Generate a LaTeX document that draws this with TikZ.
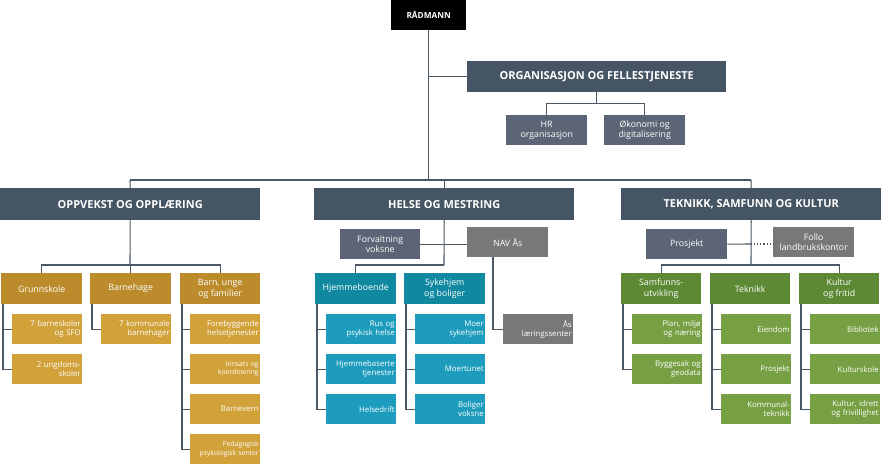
\documentclass[tikz,border=0pt]{standalone}
\usepackage{fontspec}
\setmainfont{Open Sans}
\definecolor{slate}{HTML}{465564}
\definecolor{slatel}{HTML}{5B6575}
\definecolor{grayb}{HTML}{7A7777}
\definecolor{goldA}{HTML}{BC8C2C}
\definecolor{goldB}{HTML}{D1A13A}
\definecolor{tealA}{HTML}{0F88A0}
\definecolor{tealB}{HTML}{1E9CBD}
\definecolor{greenA}{HTML}{5E8934}
\definecolor{greenB}{HTML}{76A043}
\definecolor{linec}{HTML}{4A5866}
\tikzset{
  bx/.style={anchor=north west, inner sep=0pt, text=white, align=center, font=\fontsize{8.8}{10.5}\selectfont, minimum width=81, minimum height=30},
  lvl/.style={bx, minimum height=31},
  head/.style={bx, fill=slate, minimum width=260, minimum height=32, font=\bfseries\fontsize{11}{12}\selectfont},
  sub/.style={anchor=north west, inner sep=0pt, text=white, font=\fontsize{7.8}{9.3}\selectfont, minimum width=70, minimum height=30, text width=67, align=right},
  ln/.style={draw=linec, line width=1.1pt},
}
\begin{document}
\begin{tikzpicture}[x=1pt,y=-1pt]
\useasboundingbox (0,0) rectangle (881,468);
\coordinate (tl) at (130,180); \coordinate (tr) at (751,180);
\node[bx, fill=black, minimum width=75, font=\bfseries\fontsize{8.3}{10}\selectfont] (rad) at (391,0) {RÅDMANN};
\node[head, minimum width=259, minimum height=31] (org) at (467,61) {ORGANISASJON OG FELLESTJENESTE};
\node[bx, fill=slatel] (hr) at (506,115) {HR\\organisasjon};
\node[bx, fill=slatel] (oko) at (604,115) {Økonomi og\\digitalisering};
\node[head] (opp) at (0,188) {OPPVEKST OG OPPLÆRING};
\node[head] (hel) at (314,188) {HELSE OG MESTRING};
\node[head] (tek) at (621,188) {TEKNIKK, SAMFUNN OG KULTUR};
\draw[ln] (rad.south) -- (rad.south |- tl);
\draw[ln] (tl) -- (tr);
\draw[ln] (rad.south |- org.west) -- (org.west);
\draw[ln] (org.south) -- ++(0,11) coordinate (om);
\draw[ln] (hr.north) |- (om) -| (oko.north);
\draw[ln] (tl) -- (opp.north);
\draw[ln] (hel.north) -- (hel.north |- tl);
\draw[ln] (tr) -- (tek.north);
% Oppvekst
\node[lvl, fill=goldA] (grun) at (1,273) {Grunnskole};
\node[lvl, fill=goldA] (bhg) at (90,273) {Barnehage};
\node[lvl, fill=goldA, minimum width=80] (barn) at (180,273) {Barn, unge\\og familier};
\draw[ln] (opp.south) -- (130,265);
\draw[ln] (grun.north) |- (130,265) -| (barn.north);
\draw[ln] (bhg.north) -- (bhg.north |- 0,265);
\node[sub, fill=goldB] (g1) at (12,314) {7 barneskoler\\og SFO};
\node[sub, fill=goldB] (g2) at (12,354) {2 ungdoms-\\skoler};
\node[sub, fill=goldB] (b1) at (101,314) {7 kommunale\\barnehager};
\node[sub, fill=goldB] (f1) at (190,314) {Forebyggende\\helsetjenester};
\node[sub, fill=goldB, font=\fontsize{6.8}{8.3}\selectfont] (f2) at (190,354) {Innsats og\\koordinering};
\node[sub, fill=goldB] (f3) at (190,394) {Barnevern};
\node[sub, fill=goldB, font=\fontsize{6.8}{8.3}\selectfont] (f4) at (190,434) {Pedagogisk\\psykologisk senter};
\foreach \n in {g1,g2} \draw[ln] (3,304) |- (\n.west);
\draw[ln] (92,304) |- (b1.west);
\foreach \n in {f1,f2,f3,f4} \draw[ln] (182,304) |- (\n.west);
% Helse
\node[bx, fill=slatel, minimum width=80] (forv) at (340,229) {Forvaltning\\voksne};
\node[bx, fill=grayb] (nav) at (467,227) {NAV Ås};
\draw[ln] (hel.south) -- (444,265);
\draw[ln] (forv.east) -- (forv.east -| nav.west);
\node[lvl, fill=tealA] (hje) at (315,273) {Hjemmeboende};
\node[lvl, fill=tealA] (syk) at (404,273) {Sykehjem\\og boliger};
\draw[ln] (hje.north) |- (444,265);
\node[sub, fill=tealB] (h1) at (326,314) {Rus og\\psykisk helse};
\node[sub, fill=tealB] (h2) at (326,354) {Hjemmebaserte\\tjenester};
\node[sub, fill=tealB] (h3) at (326,394) {Helsedrift};
\node[sub, fill=tealB] (s1) at (415,314) {Moer\\sykehjem};
\node[sub, fill=tealB] (s2) at (415,354) {Moertunet};
\node[sub, fill=tealB] (s3) at (415,394) {Boliger\\voksne};
\node[sub, fill=grayb] (aas) at (503,314) {Ås\\læringssenter};
\foreach \n in {h1,h2,h3} \draw[ln] (317,304) |- (\n.west);
\foreach \n in {s1,s2,s3} \draw[ln] (406,304) |- (\n.west);
\draw[ln] (493,257) |- (aas.west);
% Teknikk
\node[bx, fill=slatel] (pro) at (646,229) {Prosjekt};
\node[bx, fill=grayb] (fol) at (773,227) {Follo\\landbrukskontor};
\draw[ln] (tek.south) -- (751,265);
\draw[ln] (pro.east) -- (751,244);
\draw[ln, dotted] (751,244) -- (751,244 -| fol.west);
\node[lvl, fill=greenA, minimum width=80] (sam) at (621,273) {Samfunns-\\utvikling};
\node[lvl, fill=greenA, minimum width=80] (tkk) at (710,273) {Teknikk};
\node[lvl, fill=greenA, minimum width=80] (kul) at (799,273) {Kultur\\og fritid};
\draw[ln] (sam.north) |- (751,265) -| (kul.north);
\node[sub, fill=greenB] (t1) at (632,314) {Plan, miljø\\og næring};
\node[sub, fill=greenB] (t2) at (632,354) {Byggesak og\\geodata};
\node[sub, fill=greenB] (k1) at (721,314) {Eiendom};
\node[sub, fill=greenB] (k2) at (721,354) {Prosjekt};
\node[sub, fill=greenB] (k3) at (721,394) {Kommunal-\\teknikk};
\node[sub, fill=greenB] (u1) at (810,314) {Bibliotek};
\node[sub, fill=greenB] (u2) at (810,354) {Kulturskole};
\node[sub, fill=greenB] (u3) at (810,394) {Kultur, idrett\\og frivillighet};
\foreach \n in {t1,t2} \draw[ln] (623,304) |- (\n.west);
\foreach \n in {k1,k2,k3} \draw[ln] (712,304) |- (\n.west);
\foreach \n in {u1,u2,u3} \draw[ln] (801,304) |- (\n.west);
\end{tikzpicture}
\end{document}
